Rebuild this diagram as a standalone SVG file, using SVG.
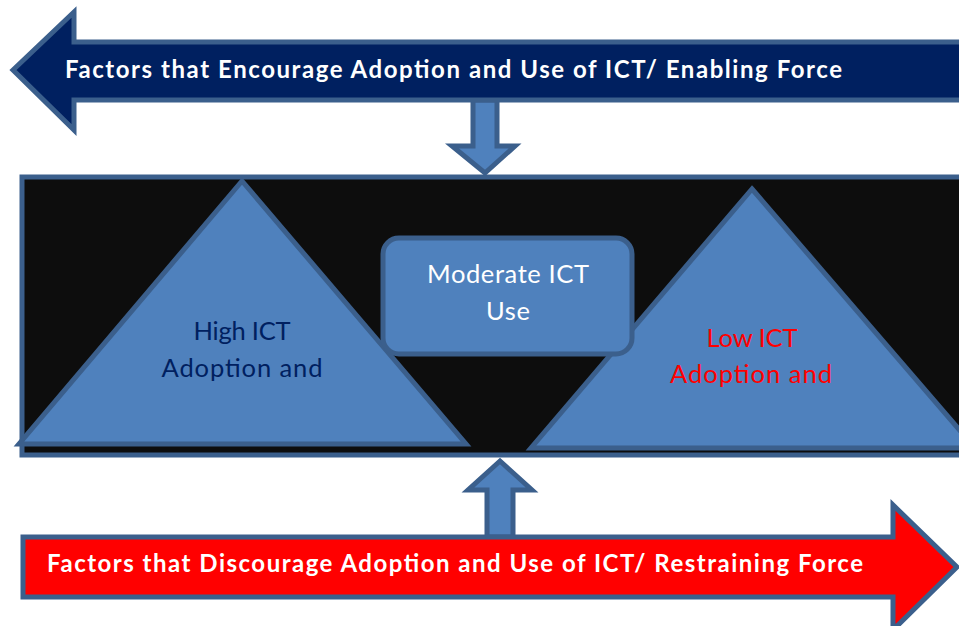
<svg xmlns="http://www.w3.org/2000/svg" width="959" height="626" viewBox="0 0 959 626">
<style>
.bd{stroke:#3b5f8c;stroke-width:5;stroke-linejoin:miter}
.blue{fill:#4f81bd}
.t{font-family:Lato,"Open Sans","Liberation Sans",sans-serif;text-anchor:middle}
.big{font-weight:bold;font-size:24px;fill:#ffffff;text-anchor:start}
.mid{font-size:25.5px}
</style>
<rect width="959" height="626" fill="#ffffff"/>
<g id="connectors">
<polygon class="bd blue" points="473,100 497,100 497,146 515,146 485,173 452,146 473,146"/>
<polygon class="bd blue" points="487,537 513,537 513,490 532,490 500,461 468,490 487,490"/>
</g>
<g id="enabling">
<polygon class="bd" fill="#002060" points="13,70 74,12 74,42 962,42 962,100 74,100 74,130"/>
<text class="t big" x="65" y="78" textLength="777">Factors that Encourage Adoption and Use of ICT/ Enabling Force</text>
</g>
<g id="field">
<rect class="bd" fill="#0d0d0d" x="22" y="177" width="945" height="278"/>
</g>
<g id="high">
<polygon class="bd blue" points="242,181 466,444 19,444"/>
<text class="t mid" fill="#002060" x="242" y="340" textLength="97">High ICT</text>
<text class="t mid" fill="#002060" x="242" y="377" textLength="161">Adoption and</text>
</g>
<g id="low">
<polygon class="bd blue" points="752,189 975,448 531,448"/>
<text class="t mid" fill="#ff0000" x="752" y="347" textLength="91">Low ICT</text>
<text class="t mid" fill="#ff0000" x="751" y="383" textLength="162">Adoption and</text>
</g>
<g id="moderate">
<rect class="bd blue" x="383" y="238" width="249" height="116" rx="16"/>
<text class="t mid" fill="#ffffff" x="508" y="283" textLength="162">Moderate ICT</text>
<text class="t mid" fill="#ffffff" x="508" y="320" textLength="44">Use</text>
</g>
<g id="restraining">
<polygon class="bd" fill="#ff0000" points="23,537 893,537 893,505 957,567 893,630 893,597 23,597"/>
<text class="t big" x="47" y="572" textLength="816">Factors that Discourage Adoption and Use of ICT/ Restraining Force</text>
</g>
</svg>
